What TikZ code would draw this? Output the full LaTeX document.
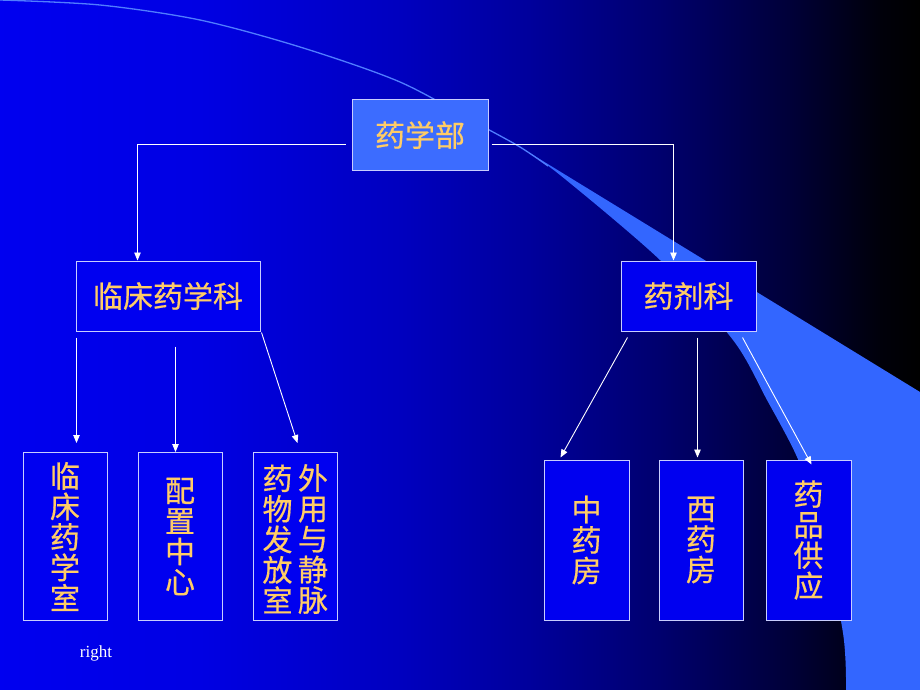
\documentclass[tikz,border=0pt]{standalone}
\usepackage{fontspec}
\setmainfont{Liberation Serif}
\newfontfamily\cjk[FakeBold=0.5]{Noto Sans CJK SC}
\usetikzlibrary{arrows.meta}
\definecolor{boxfill}{RGB}{0,0,240}
\definecolor{topfill}{RGB}{60,108,255}
\definecolor{swoosh}{RGB}{51,102,255}
\definecolor{swooshline}{RGB}{80,125,255}
\definecolor{boxline}{RGB}{200,205,255}
\definecolor{txt}{RGB}{255,204,102}
\pgfdeclarehorizontalshading{bgshade}{690pt}{rgb(0pt)=(0,0,0.94); rgb(200pt)=(0,0,0.89); rgb(400pt)=(0,0,0.75); rgb(530pt)=(0,0,0.61); rgb(660pt)=(0,0,0.43); rgb(790pt)=(0,0,0.22); rgb(880pt)=(0,0,0.04); rgb(920pt)=(0,0,0)}
\begin{document}
\begin{tikzpicture}[x=1pt,y=-1pt,
  cjktext/.style={text=txt, align=center, inner sep=0pt, font=\cjk\fontsize{30}{30.5}\selectfont},
  box/.style={draw=boxline, line width=1pt, fill=boxfill, cjktext},
  topbox/.style={box, fill=topfill},
  arr/.style={draw=white, line width=0.9pt, -{Triangle[length=8pt,width=6.5pt]}}]
\useasboundingbox (0,0) rectangle (920,690);
\node[inner sep=0pt, outer sep=0pt, anchor=south west] (bg) at (0,690) {\pgfuseshading{bgshade}};
% swoosh
\fill[swoosh] plot[smooth] coordinates {(520,147) (560,175) (660,260) (733,340) (767,400) (797,457) (820,520) (843,633) (846,690)} -- (920,690) -- (920,392) -- cycle;
\draw[swooshline, line width=1.3pt] plot[smooth] coordinates {(0,0) (100,5) (200,20) (300,47) (400,82) (480,125) (520,147) (548,166)};
% boxes
\node[topbox, minimum width=136pt, minimum height=70pt] (top) at (420,135) {药学部};
\node[box, minimum width=184pt, minimum height=70pt] (k1) at (168,296) {临床药学科};
\node[box, minimum width=135pt, minimum height=70pt] (yj) at (688.5,296) {药剂科};
\node[box, minimum width=84pt, minimum height=168pt] (c1) at (65,536.5) {临\\床\\药\\学\\室};
\node[box, minimum width=84pt, minimum height=168pt] (c2) at (180,536.5) {配\\置\\中\\心};
\node[box, minimum width=84pt, minimum height=168pt] (c3) at (295,536.5) {};
\node[cjktext] (c3l) at (277.5,539) {药\\物\\发\\放\\室};
\node[cjktext] (c3r) at (313,539) {外\\用\\与\\静\\脉};
\node[box, minimum width=85pt, minimum height=160pt] (m1) at (586.5,540) {中\\药\\房};
\node[box, minimum width=84pt, minimum height=160pt] (m2) at (701,540) {西\\药\\房};
\node[box, minimum width=85pt, minimum height=160pt] (m3) at (808.5,540) {药\\品\\供\\应};
\node[text=white, font=\fontsize{17}{17}\selectfont, inner sep=0pt] (lbl) at (96,653) {right};
% connectors
\draw[arr] ([xshift=-6pt,yshift=-9pt]top.west) -| ([xshift=62pt]k1.north west);
\draw[arr] ([xshift=3pt,yshift=-9pt]top.east) -| ([xshift=53pt]yj.north west);
\draw[arr] ([xshift=1pt,yshift=-6pt]k1.south west) -- ([xshift=54pt,yshift=9pt]c1.north west);
\draw[arr] ([xshift=100pt,yshift=-15pt]k1.south west) -- ([xshift=38pt]c2.north west);
\draw[arr] ([xshift=1pt,yshift=-1pt]k1.south east) -- ([xshift=45pt,yshift=9pt]c3.north west);
\draw[arr] ([xshift=7pt,yshift=-6pt]yj.south west) -- ([xshift=17pt,yshift=2pt]m1.north west);
\draw[arr] ([xshift=77pt,yshift=-6pt]yj.south west) -- ([xshift=39pt,yshift=2pt]m2.north west);
\draw[arr] ([xshift=122pt,yshift=-6pt]yj.south west) -- ([xshift=46pt,yshift=-5pt]m3.north west);
\end{tikzpicture}
\end{document}
